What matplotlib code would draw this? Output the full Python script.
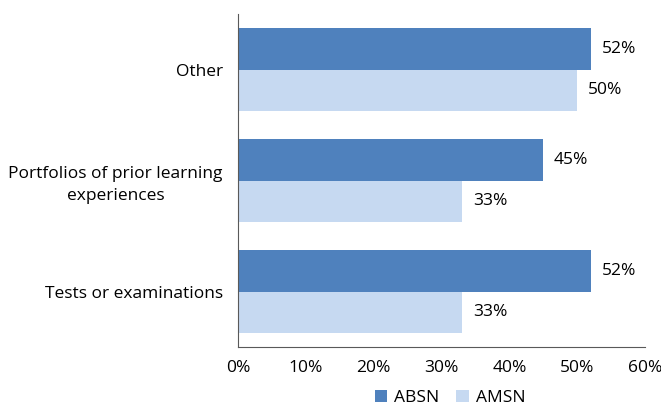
import numpy as np
import matplotlib.pyplot as plt
from matplotlib.ticker import PercentFormatter

categories = ["Other", "Portfolios of prior learning\nexperiences", "Tests or examinations"]
absn = [52, 45, 52]
amsn = [50, 33, 33]

plt.rcParams['font.family'] = ['Open Sans', 'DejaVu Sans']
fs = 12.5

fig = plt.figure(figsize=(6.61, 4.09), dpi=100)
ax = fig.add_axes([238/661, 1 - 347/409, (645-238)/661, (347-14)/409])

y = np.arange(len(categories))
h = 0.37
ax.barh(y - h/2, absn, height=h, color="#4F81BD", label="ABSN")
ax.barh(y + h/2, amsn, height=h, color="#C6D9F1", label="AMSN")

for yi, a, b in zip(y, absn, amsn):
    ax.text(a + 1.6, yi - h/2, f"{a}%", va="center", ha="left", fontsize=fs)
    ax.text(b + 1.6, yi + h/2, f"{b}%", va="center", ha="left", fontsize=fs)

ax.set_ylim(2.5, -0.5)
ax.set_xlim(0, 60)
ax.set_xticks(np.arange(0, 61, 10))
ax.xaxis.set_major_formatter(PercentFormatter(decimals=0))
ax.set_yticks(y)
ax.set_yticklabels(categories, fontsize=fs, multialignment="center", linespacing=1.5)
ax.tick_params(axis="y", length=0, pad=11)
ax.tick_params(axis="x", length=0, labelsize=fs, pad=9)

for s in ["top", "right"]:
    ax.spines[s].set_visible(False)
ax.spines["left"].set_color("#595959")
ax.spines["bottom"].set_color("#595959")

fig.legend(loc="center", bbox_to_anchor=(450/661, 1 - 398/409), ncol=2, frameon=False,
           fontsize=fs, handlelength=0.7, handleheight=0.7, columnspacing=1.0, handletextpad=0.4)

fig.savefig("out.png", dpi=100)
